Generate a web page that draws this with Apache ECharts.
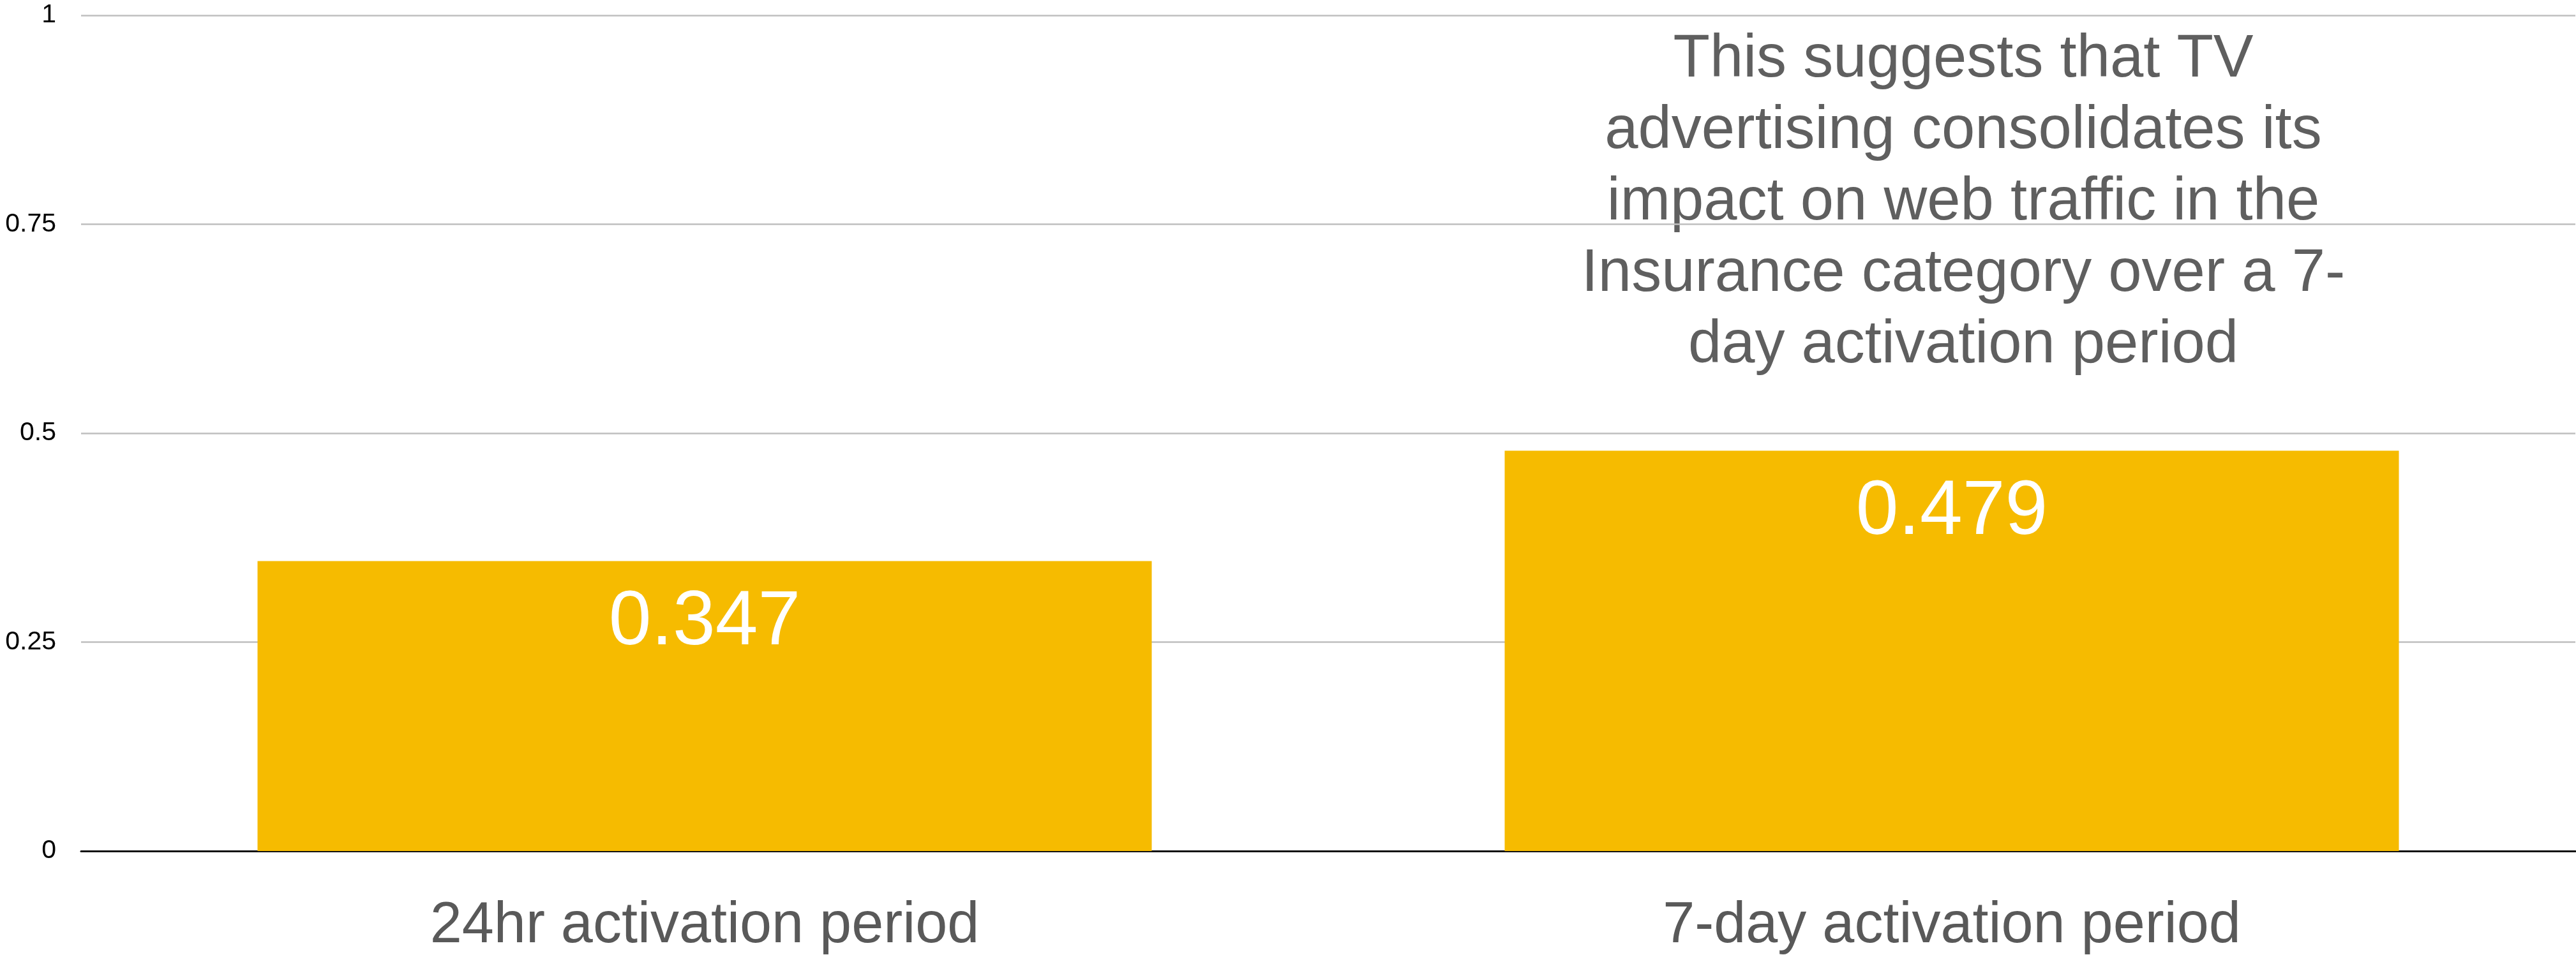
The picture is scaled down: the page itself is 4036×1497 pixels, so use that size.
<!DOCTYPE html>
<html>
<head>
<meta charset="utf-8">
<title>TV advertising activation periods</title>
<script src="https://cdn.jsdelivr.net/npm/echarts@6/dist/echarts.min.js"></script>
<style>
  html, body { margin: 0; padding: 0; background: #ffffff; }
  #chart { width: 4036px; height: 1497px; }
</style>
</head>
<body>
<div id="chart"></div>
<script>
// Categories and values for the two activation windows
const categories = ['24hr activation period', '7-day activation period'];
const values = [0.347, 0.479];
const yTicks = [0, 0.25, 0.5, 0.75, 1];
const noteLines = [
  'This suggests that TV',
  'advertising consolidates its',
  'impact on web traffic in the',
  'Insurance category over a 7-',
  'day activation period'
];

const FONT = '"Liberation Sans", Arial, Helvetica, sans-serif';
const chart = echarts.init(document.getElementById('chart'), null, { renderer: 'canvas' });

chart.setOption({
  animation: false,
  backgroundColor: '#ffffff',
  grid: { left: 127, right: 1, top: 24, bottom: 157, containLabel: false },
  xAxis: {
    type: 'category',
    data: categories,
    axisTick: { show: false },
    axisLine: { show: true, lineStyle: { color: '#111111', width: 3 } },
    axisLabel: {
      color: '#595959',
      fontFamily: FONT,
      fontSize: 90,
      margin: 73
    }
  },
  yAxis: {
    type: 'value',
    min: yTicks[0],
    max: yTicks[yTicks.length - 1],
    interval: 0.25,
    axisLine: { show: false },
    axisTick: { show: false },
    splitLine: { show: true, lineStyle: { color: '#bfbfbf', width: 2.5 } },
    axisLabel: {
      color: '#000000',
      fontFamily: FONT,
      fontSize: 41,
      margin: 39,
      formatter: function (v) { return String(+v.toFixed(2)); }
    }
  },
  series: [{
    type: 'bar',
    data: values,
    barWidth: '71.7%',
    itemStyle: { color: '#F6BB00' },
    label: {
      show: true,
      position: 'insideTop',
      distance: 37,
      color: '#ffffff',
      fontFamily: FONT,
      fontSize: 120,
      formatter: function (p) { return p.value.toFixed(3); }
    }
  }],
  graphic: [{
    type: 'text',
    x: 3076,
    y: 38,
    style: {
      text: noteLines.join('\n'),
      fill: '#5f5f5f',
      font: '94px ' + FONT,
      lineHeight: 112,
      align: 'center',
      verticalAlign: 'top'
    }
  }]
});
</script>
</body>
</html>
